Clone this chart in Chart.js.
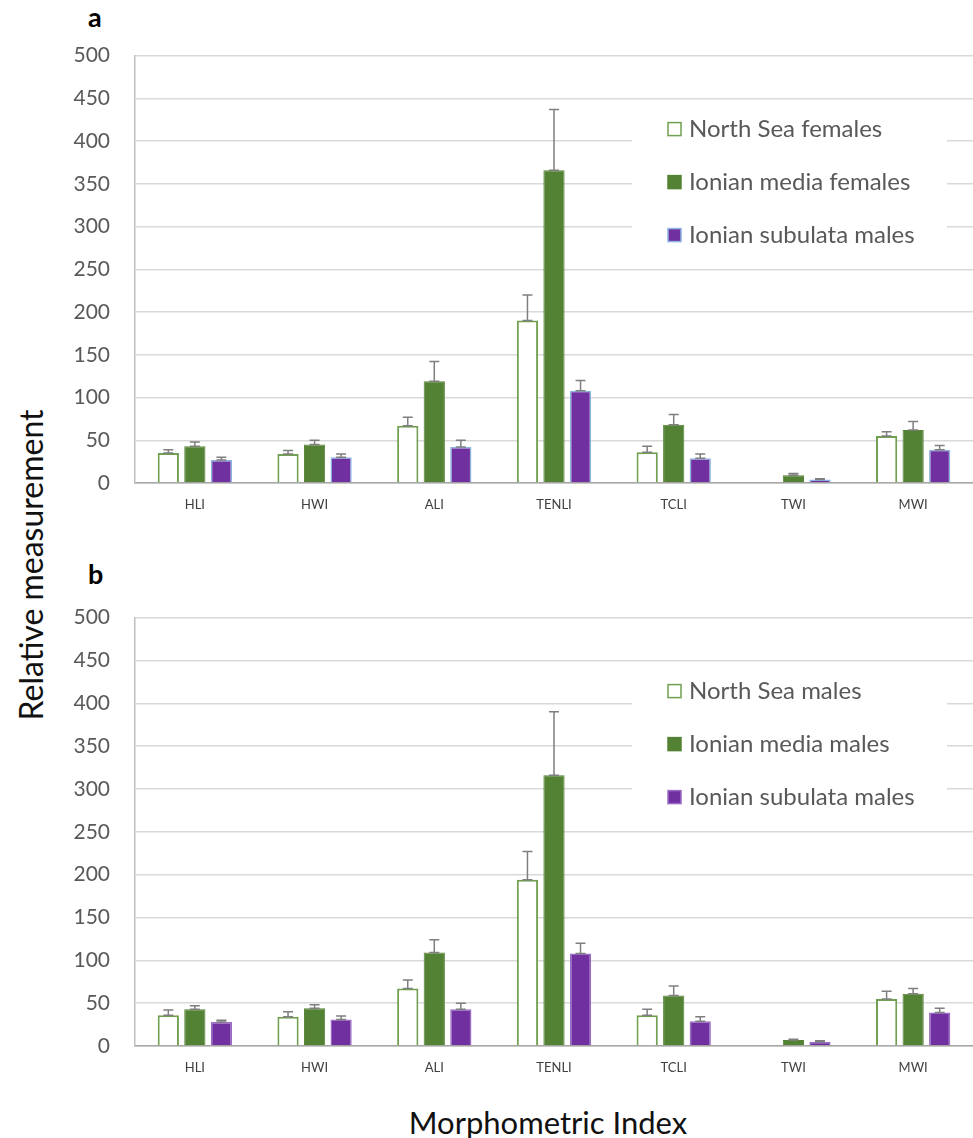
<!DOCTYPE html>
<html>
<head>
<meta charset="utf-8">
<script src="https://cdn.jsdelivr.net/npm/chart.js@4.4.0/dist/chart.umd.min.js"></script>
<style>
  body { margin: 0; background: #fff; width: 973px; height: 1138px; position: relative; overflow: hidden; font-family: Lato, "Open Sans", sans-serif; }
  canvas { position: absolute; left: 0; }
  #chartA { top: 18px; }
  #chartB { top: 580px; }
  .panel { position: absolute; font-weight: bold; font-size: 27px; color: #000; }
  #ytitle { position: absolute; left: 30px; top: 565px; transform: translate(-50%, -50%) rotate(-90deg); font-size: 32px; white-space: nowrap; color: #111; }
  #xtitle { position: absolute; left: 548px; top: 1122px; transform: translate(-50%, -50%); font-size: 31px; white-space: nowrap; color: #111; }
</style>
</head>
<body>
<div class="panel" style="left:88px;top:0px">a</div>
<div class="panel" style="left:88px;top:557px">b</div>
<div id="ytitle">Relative measurement</div>
<div id="xtitle">Morphometric Index</div>
<canvas id="chartA" width="973" height="512"></canvas>
<canvas id="chartB" width="973" height="513"></canvas>
<script>
'use strict';
const indices=['HLI','HWI','ALI','TENLI','TCLI','TWI','MWI'];
const yTicks=[0,50,100,150,200,250,300,350,400,450,500];

// panel a
const labelsA=['North Sea females','Ionian media females','Ionian subulata males'];
const northSeaA=[35,34,67,190,36,null,55];
const northSeaErrA=[4,4,10,30,7,0,5];
const mediaA=[43,45,119,366,68,9,62];
const mediaErrA=[5,5,23,71,12,2,10];
const subulataA=[27,30,42,108,29,4,39];
const subulataErrA=[3,4,8,12,5,1,5];

// panel b
const labelsB=['North Sea males','Ionian media males','Ionian subulata males'];
const northSeaB=[36,34,67,194,36,null,55];
const northSeaErrB=[6,6,10,33,7,0,9];
const mediaB=[43,44,109,316,59,7,61];
const mediaErrB=[4,4,15,74,11,1,6];
const subulataB=[28,31,43,108,29,5,39];
const subulataErrB=[2,4,7,12,5,1,5];

const errorBars={
    id:'errorBars',
    afterDatasetsDraw(chart){
        const ctx=chart.ctx;
        const y=chart.scales.y;
        chart.data.datasets.forEach((ds,i)=>{
            const meta=chart.getDatasetMeta(i);
            meta.data.forEach((bar,j)=>{
                const v=ds.data[j];
                const e=ds.err[j];
                if(v==null||!e) return;
                const top=y.getPixelForValue(v+e);
                const base=y.getPixelForValue(v);
                ctx.save();
                ctx.strokeStyle='#7f7f7f';
                ctx.lineWidth=1.5;
                ctx.beginPath();
                ctx.moveTo(bar.x,base);ctx.lineTo(bar.x,top);
                ctx.moveTo(bar.x-5,top);ctx.lineTo(bar.x+5,top);
                ctx.moveTo(bar.x-5,base);ctx.lineTo(bar.x+5,base);
                ctx.stroke();
                ctx.restore();
            });
        });
    }
};

// legend sits inside the plot, on a white box over the grid
const boxLegend={
    id:'boxLegend',
    beforeDatasetsDraw(chart,args,opts){
        const ctx=chart.ctx;
        const top=chart.chartArea.top;
        ctx.save();
        ctx.fillStyle='#fff';
        ctx.fillRect(opts.left,top+opts.top,opts.w,opts.h);
        ctx.font='24px Lato, "Open Sans", sans-serif';
        ctx.textBaseline='middle';
        chart.data.datasets.forEach((ds,i)=>{
            const cy=top+opts.y0+i*opts.dy;
            ctx.fillStyle=ds.backgroundColor;
            ctx.fillRect(opts.x,cy-6,13,13);
            ctx.strokeStyle=ds.borderColor;
            ctx.lineWidth=1.5;
            ctx.strokeRect(opts.x,cy-6,13,13);
            ctx.fillStyle='#595959';
            ctx.fillText(ds.label,opts.x+21,cy+1);
        });
        ctx.restore();
    }
};

function makeChart(id,labels,series,errs,subBorder){
    const ctx=document.getElementById(id).getContext('2d');
    return new Chart(ctx,{
        type:'bar',
        data:{
            labels:indices,
            datasets:[{
                label:labels[0],
                data:series[0],
                err:errs[0],
                backgroundColor:'#ffffff',
                borderColor:'#70a050',
                borderWidth:2
            },{
                label:labels[1],
                data:series[1],
                err:errs[1],
                backgroundColor:'#548235',
                borderColor:'#548235',
                borderWidth:1
            },{
                label:labels[2],
                data:series[2],
                err:errs[2],
                backgroundColor:'#7030a0',
                borderColor:subBorder,
                borderWidth:1.5
            }]
        },
        options:{
            responsive:false,
            animation:false,
            devicePixelRatio:1,
            layout:{padding:0},
            datasets:{bar:{categoryPercentage:0.665,barPercentage:0.8,grouped:true}},
            plugins:{
                legend:{display:false},
                tooltip:{enabled:false},
                boxLegend:{left:632,top:47,w:315,h:160,x:668,y0:73,dy:53}
            },
            scales:{
                x:{
                    grid:{display:false,drawTicks:false},
                    border:{display:true,color:'#a6a6a6',width:1.5},
                    ticks:{color:'#404040',font:{size:13,family:'Lato'},padding:14},
                    afterFit(scale){scale.height=47;}
                },
                y:{
                    min:0,max:500,
                    afterBuildTicks(scale){scale.ticks=yTicks.map(v=>({value:v}));},
                    grid:{color:'#d9d9d9',lineWidth:1.5,drawTicks:false},
                    border:{display:true,color:'#bfbfbf',width:1.5},
                    ticks:{color:'#595959',font:{size:21,family:'Lato'},padding:25},
                    afterFit(scale){scale.width=135;}
                }
            }
        },
        plugins:[boxLegend,errorBars]
    });
}

makeChart('chartA',labelsA,[northSeaA,mediaA,subulataA],[northSeaErrA,mediaErrA,subulataErrA],'#8db3e2');
makeChart('chartB',labelsB,[northSeaB,mediaB,subulataB],[northSeaErrB,mediaErrB,subulataErrB],'#9a6cc6');
</script>
</body>
</html>
